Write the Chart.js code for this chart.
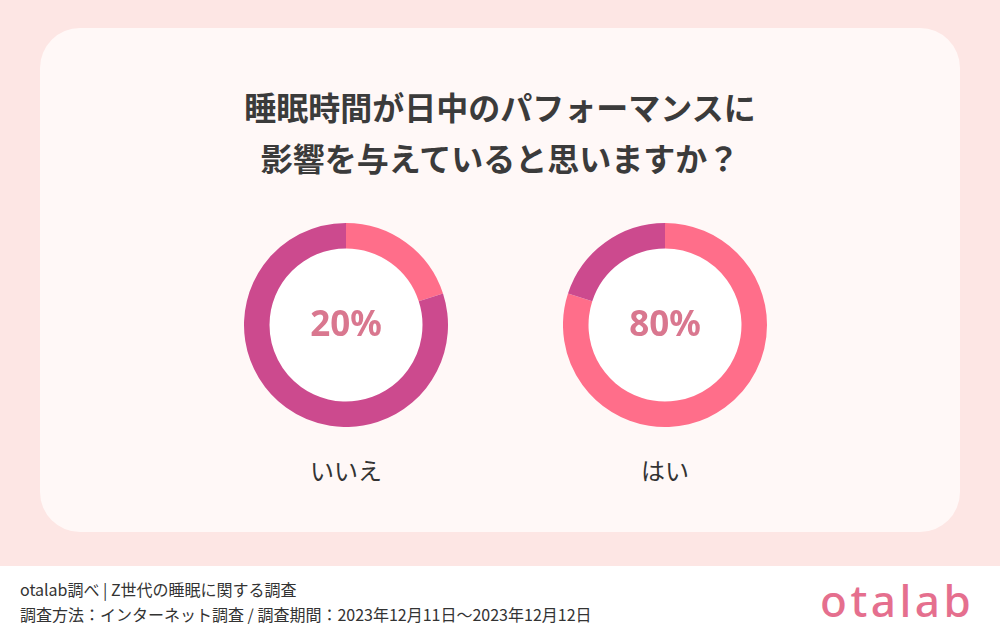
<!DOCTYPE html>
<html lang="ja">
<head>
<meta charset="utf-8">
<script src="https://cdn.jsdelivr.net/npm/chart.js@4"></script>
<style>
  body { margin: 0; width: 1000px; height: 630px; overflow: hidden; background: #fde6e4;
         font-family: "Noto Sans CJK JP", "Noto Sans", sans-serif; position: relative; }
  .card { position: absolute; left: 40px; top: 28px; width: 920px; height: 504px;
          background: #fff8f7; border-radius: 40px; }
  .title { position: absolute; left: 0; top: 81px; width: 1000px; text-align: center;
           font-size: 32px; font-weight: 700; line-height: 51px; color: #3b3b3b; }
  .donut { position: absolute; width: 204px; height: 204px; }
  .label { position: absolute; width: 200px; text-align: center; font-size: 24px; color: #333;
           top: 452px; }
  .footer { position: absolute; left: 0; top: 566px; width: 1000px; height: 64px; background: #fff; }
  .note { position: absolute; left: 20px; font-size: 16px; color: #333; white-space: nowrap; }
  .logo { position: absolute; left: 820px; top: 570px; font-family: "Noto Sans", sans-serif;
          font-size: 44px; font-weight: 500; letter-spacing: 3.5px; color: #e56f8e; }
</style>
</head>
<body>
<div class="card"></div>
<div class="title">睡眠時間が日中のパフォーマンスに<br>影響を与えていると思いますか？</div>

<canvas id="chartNo" class="donut" width="204" height="204" style="left:244px; top:223px;"></canvas>
<canvas id="chartYes" class="donut" width="204" height="204" style="left:563px; top:223px;"></canvas>
<div class="label" id="labelNo" style="left:246px;"></div>
<div class="label" id="labelYes" style="left:565px;"></div>

<div class="footer">
  <div class="note" style="top:11px;">otalab調べ | Z世代の睡眠に関する調査</div>
  <div class="note" style="top:36px;">調査方法：インターネット調査 / 調査期間：2023年12月11日～2023年12月12日</div>
</div>
<div class="logo">otalab</div>

<script>
// answers and their share (%)
const answers = ["いいえ", "はい"];
const shares = [20, 80];
const pink = "#ff6e8a";
const magenta = "#cc4a8e";

// fill the hole white and write the percentage in it
const centerPlugin = {
    id: "centerText",
    beforeDatasetsDraw(chart) {
        const arc = chart.getDatasetMeta(0).data[0];
        const ctx = chart.ctx;
        ctx.save();
        ctx.beginPath();
        ctx.arc(arc.x, arc.y, arc.innerRadius, 0, Math.PI * 2);
        ctx.fillStyle = "#ffffff";
        ctx.fill();
        ctx.restore();
    },
    afterDatasetsDraw(chart, args, opts) {
        const arc = chart.getDatasetMeta(0).data[0];
        const ctx = chart.ctx;
        ctx.save();
        ctx.font = "700 35px 'Noto Sans', sans-serif";
        ctx.fillStyle = "#d9778f";
        ctx.textAlign = "center";
        ctx.textBaseline = "middle";
        ctx.fillText(opts.text, arc.x, arc.y + 1);
        ctx.restore();
    }
};

function makeDonut(canvasId, value, mainColor, restColor) {
    const ctx = document.getElementById(canvasId).getContext("2d");
    return new Chart(ctx, {
        type: "doughnut",
        data: {
            labels: ["該当", "その他"],
            datasets: [{
                data: [value, 100 - value],
                backgroundColor: [mainColor, restColor],
                borderWidth: 0
            }]
        },
        options: {
            responsive: false,
            animation: false,
            cutout: "75%",
            plugins: {
                legend: { display: false },
                tooltip: { enabled: false },
                centerText: { text: value + "%" }
            }
        },
        plugins: [centerPlugin]
    });
}

makeDonut("chartNo", shares[0], pink, magenta);
makeDonut("chartYes", shares[1], pink, magenta);

document.getElementById("labelNo").textContent = answers[0];
document.getElementById("labelYes").textContent = answers[1];
</script>
</body>
</html>
